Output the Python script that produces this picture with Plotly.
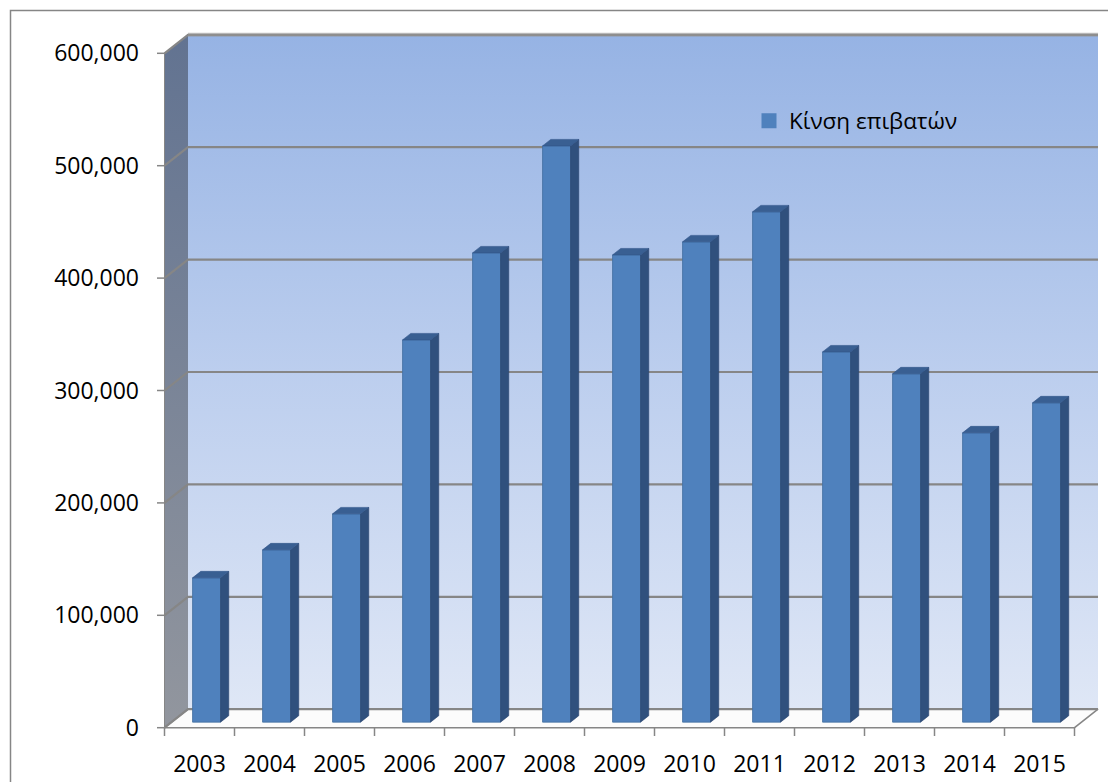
import plotly.graph_objects as go

# ---- data -------------------------------------------------------------
years = ["2003", "2004", "2005", "2006", "2007", "2008", "2009",
         "2010", "2011", "2012", "2013", "2014", "2015"]
passengers = [128400, 153300, 185300, 340100, 417500, 512700, 415700,
              427300, 454000, 329400, 309900, 257400, 284100]
y_ticks = [0, 100000, 200000, 300000, 400000, 500000, 600000]
series_name = "Κίνση επιβατών"

# ---- geometry of the pseudo 3-D box (pixels) --------------------------
W, H = 1108, 782
FRONT_LEFT_PX = 164.5      # left edge of the front plane
FRONT_ZERO_PX = 727.7      # zero line of the front plane
CAT_PX = 70.0              # width of one category
UNIT_PX = 1.124e-3         # pixels per passenger
DEPTH_PX = (23.5, -18.5)   # shift from front plane to back wall
PLOT_PX = dict(left=150, right=1102, top=28, bottom=742)

FRONT_T, BACK_T = 0.30, 0.65   # depth of the columns' front / back faces
BAR_W = 0.4                    # column width in category units


def xval(px):
    return (px - FRONT_LEFT_PX) / CAT_PX - 0.5


def yval(py):
    return (FRONT_ZERO_PX - py) / UNIT_PX


WDX = DEPTH_PX[0] / CAT_PX
WDY = -DEPTH_PX[1] / UNIT_PX

n = len(years)
idx = list(range(n))
x_lo, x_hi = -0.5, n - 0.5
y_top = y_ticks[-1]

x_range = [xval(PLOT_PX["left"]), xval(PLOT_PX["right"])]
y_range = [yval(PLOT_PX["bottom"]), yval(PLOT_PX["top"])]

GRID = "rgb(134,134,134)"
FONT = dict(family="Open Sans", size=22.5, color="#000000")
TICK_FONT = dict(family="Open Sans", size=23, color="#000000")

fig = go.Figure()

# back wall with vertical gradient
fig.add_trace(go.Scatter(
    x=[x_lo + WDX, x_hi + WDX, x_hi + WDX, x_lo + WDX, x_lo + WDX],
    y=[WDY, WDY, y_top + WDY, y_top + WDY, WDY],
    mode="lines", line=dict(width=0), fill="toself",
    fillgradient=dict(type="vertical", start=WDY, stop=y_top + WDY,
                      colorscale=[[0, "rgb(223,231,246)"],
                                  [0.5, "rgb(188,206,238)"],
                                  [1, "rgb(150,179,228)"]]),
    hoverinfo="skip", showlegend=False))

# left side wall
fig.add_trace(go.Scatter(
    x=[x_lo, x_lo + WDX, x_lo + WDX, x_lo, x_lo],
    y=[0, WDY, y_top + WDY, y_top, 0],
    mode="lines", line=dict(width=0), fill="toself",
    fillgradient=dict(type="vertical", start=0, stop=y_top + WDY,
                      colorscale=[[0, "rgb(146,150,158)"],
                                  [1, "rgb(98,115,145)"]]),
    hoverinfo="skip", showlegend=False))

# floor
fig.add_trace(go.Scatter(
    x=[x_lo, x_hi, x_hi + WDX, x_lo + WDX, x_lo],
    y=[0, 0, WDY, WDY, 0],
    mode="lines", line=dict(width=1.5, color=GRID), fill="toself",
    fillcolor="rgb(252,252,252)",
    hoverinfo="skip", showlegend=False))

# gridlines on back wall and side wall
gx, gy = [], []
for t in y_ticks:
    gx += [x_lo, x_lo + WDX, x_hi + WDX, None]
    gy += [t, t + WDY, t + WDY, None]
fig.add_trace(go.Scatter(x=gx, y=gy, mode="lines",
                         line=dict(width=2.2, color=GRID),
                         hoverinfo="skip", showlegend=False))

# soft shadow along the top edge of the back wall
fig.add_trace(go.Scatter(x=[x_lo + WDX, x_hi + WDX],
                         y=[y_top + WDY, y_top + WDY], mode="lines",
                         line=dict(width=4, color="rgba(150,150,150,0.55)"),
                         hoverinfo="skip", showlegend=False))

# left edge of the side wall
fig.add_trace(go.Scatter(x=[x_lo, x_lo], y=[0, y_top], mode="lines",
                         line=dict(width=1, color=GRID),
                         hoverinfo="skip", showlegend=False))

# tick marks
tx, ty = [], []
for t in y_ticks:
    tx += [xval(157), x_lo, None]
    ty += [t, t, None]
for b in range(n + 1):
    tx += [b - 0.5, b - 0.5, None]
    ty += [0, yval(736), None]
fig.add_trace(go.Scatter(x=tx, y=ty, mode="lines",
                         line=dict(width=1.5, color=GRID),
                         hoverinfo="skip", showlegend=False))

# ---- columns (drawn on an overlaid axis pair so they sit above walls) --
FDX, FDY = FRONT_T * WDX, FRONT_T * WDY
DDX, DDY = (BACK_T - FRONT_T) * WDX, (BACK_T - FRONT_T) * WDY

fig.add_trace(go.Bar(
    x=[i + FDX for i in idx], y=passengers, base=FDY, width=BAR_W,
    marker=dict(color="#4F81BD", line=dict(width=0.8, color="#44709F")),
    xaxis="x2", yaxis="y2", hoverinfo="skip", showlegend=False))

sx, sy, px_, py_ = [], [], [], []
for i, v in zip(idx, passengers):
    xl = i + FDX - BAR_W / 2
    xr = xl + BAR_W
    b, t = FDY, FDY + v
    sx += [xr, xr, xr + DDX, xr + DDX, xr, None]
    sy += [b, t, t + DDY, b + DDY, b, None]
    px_ += [xl, xr, xr + DDX, xl + DDX, xl, None]
    py_ += [t, t, t + DDY, t + DDY, t, None]

fig.add_trace(go.Scatter(x=sx, y=sy, mode="lines", fill="toself",
                         fillcolor="#30507D", line=dict(width=0.6, color="#2B4770"),
                         xaxis="x2", yaxis="y2", hoverinfo="skip",
                         showlegend=False))
fig.add_trace(go.Scatter(x=px_, y=py_, mode="lines", fill="toself",
                         fillcolor="#395F92", line=dict(width=0.6, color="#33568A"),
                         xaxis="x2", yaxis="y2", hoverinfo="skip",
                         showlegend=False))

# legend entry for the series
fig.add_trace(go.Scatter(x=[None], y=[None], mode="markers", name=series_name,
                         marker=dict(symbol="square", size=15, color="#4F81BD"),
                         xaxis="x2", yaxis="y2", showlegend=True))

fig.update_layout(
    width=W, height=H,
    margin=dict(l=0, r=0, t=0, b=0),
    paper_bgcolor="white", plot_bgcolor="white",
    font=FONT,
    showlegend=True,
    legend=dict(x=749 / W, y=1 - 121 / H, xanchor="left", yanchor="middle",
                bgcolor="rgba(0,0,0,0)", font=FONT),
    xaxis=dict(domain=[PLOT_PX["left"] / W, PLOT_PX["right"] / W],
               range=x_range, tickvals=idx, ticktext=years, ticks="",
               tickfont=TICK_FONT,
               showgrid=False, zeroline=False, showline=False,
               ticklabelstandoff=6, fixedrange=True),
    yaxis=dict(domain=[1 - PLOT_PX["bottom"] / H, 1 - PLOT_PX["top"] / H],
               range=y_range, tickvals=y_ticks,
               ticktext=[f"{v:,}" for v in y_ticks], ticks="",
               tickfont=TICK_FONT,
               showgrid=False, zeroline=False, showline=False,
               ticklabelstandoff=10, fixedrange=True),
    xaxis2=dict(overlaying="x", anchor="y2", range=x_range, visible=False),
    yaxis2=dict(overlaying="y", anchor="x2", range=y_range, visible=False),
    shapes=[dict(type="rect", xref="paper", yref="paper",
                 x0=10.5 / W, x1=1 + 10 / W, y0=-10 / H, y1=1 - 10.5 / H,
                 line=dict(color=GRID, width=1.5), layer="above")],
)

fig.write_html("out.html")
